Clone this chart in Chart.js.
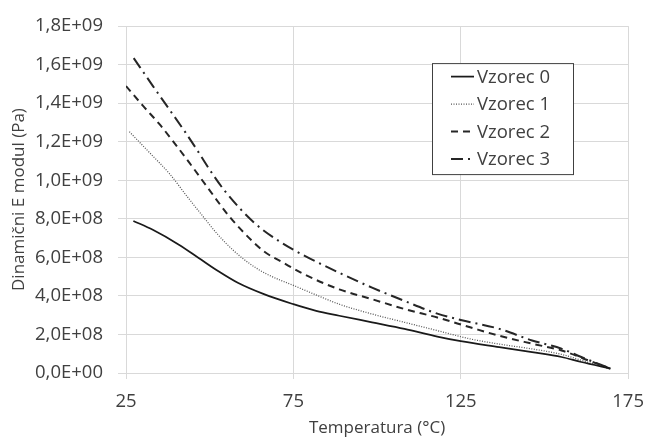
<!DOCTYPE html>
<html>
<head>
<meta charset="utf-8">
<script src="https://cdn.jsdelivr.net/npm/chart.js@4.4.1/dist/chart.umd.min.js"></script>
<style>
  html, body { margin: 0; padding: 0; background: #fff; }
  #wrap { width: 656px; height: 439px; }
</style>
</head>
<body>
<div id="wrap"><canvas id="modulChart" width="656" height="439"></canvas></div>
<script>
// Dynamic modulus vs temperature, four samples
const seriesNames = ["Vzorec 0", "Vzorec 1", "Vzorec 2", "Vzorec 3"];

const temp0 = [27.2, 33, 40.8, 46.7, 52.5, 58.4, 66.2, 75, 81.8, 88.7, 98.5, 108.2, 118, 125, 136.5, 146.3, 155.1, 161, 169.7];
const modul0 = [7.89e8, 7.43e8, 6.66e8, 5.97e8, 5.29e8, 4.68e8, 4.09e8, 3.57e8, 3.22e8, 2.97e8, 2.63e8, 2.29e8, 1.89e8, 1.65e8, 1.34e8, 1.08e8, 0.83e8, 0.57e8, 0.23e8];

const temp1 = [26, 33, 37.9, 43.75, 47.65, 52.5, 57.4, 62.3, 67.2, 75.5, 81.8, 88.7, 98.5, 108.2, 118, 127.8, 136.5, 146.3, 155, 161, 169.7];
const modul1 = [12.52e8, 11.26e8, 10.36e8, 9.05e8, 8.2e8, 7.17e8, 6.31e8, 5.63e8, 5.12e8, 4.51e8, 4.05e8, 3.57e8, 3.06e8, 2.63e8, 2.2e8, 1.77e8, 1.5e8, 1.25e8, 0.97e8, 0.66e8, 0.2e8];

const temp2 = [25, 30.1, 35, 38.9, 43.8, 49.6, 55.5, 60.4, 66.2, 72.1, 77.9, 88.7, 98.5, 108.2, 118, 127.8, 136.5, 146.3, 155.1, 163, 169.7];
const modul2 = [14.89e8, 13.86e8, 12.91e8, 12.06e8, 10.94e8, 9.57e8, 8.2e8, 7.25e8, 6.31e8, 5.71e8, 5.15e8, 4.34e8, 3.83e8, 3.32e8, 2.88e8, 2.37e8, 1.93e8, 1.52e8, 1.17e8, 0.66e8, 0.23e8];

const temp3 = [27.3, 33, 37.9, 42.8, 46.2, 49.6, 54.5, 63.3, 71.1, 78.4, 88.7, 98.5, 108.2, 118, 125, 136.5, 146.3, 155.1, 161, 169.7];
const modul3 = [16.34e8, 14.9e8, 13.69e8, 12.47e8, 11.58e8, 10.65e8, 9.45e8, 7.8e8, 6.8e8, 6.08e8, 5.2e8, 4.43e8, 3.74e8, 3.08e8, 2.75e8, 2.29e8, 1.69e8, 1.26e8, 0.83e8, 0.23e8];

const xTickValues = [25, 75, 125, 175];
const yTickValues = [0, 2e8, 4e8, 6e8, 8e8, 10e8, 12e8, 14e8, 16e8, 18e8];

const FONT = "'Open Sans', 'DejaVu Sans', sans-serif";
const TEXT = "#404040";
const GRID = "#d9d9d9";

function toPoints(xs, ys) {
    return xs.map((x, i) => ({ x: x, y: ys[i] }));
}

// "1,8E+09" style labels
function sciLabel(v) {
    if (v === 0) return "0,0E+00";
    const exp = Math.floor(Math.log10(v) + 1e-9);
    const mant = v / Math.pow(10, exp);
    return mant.toFixed(1).replace(".", ",") + "E+" + String(exp).padStart(2, "0");
}

// boxed legend inside the plot area
const boxLegend = {
    id: "boxLegend",
    afterDatasetsDraw(chart) {
        const ctx = chart.ctx;
        const area = chart.chartArea;
        const bx = area.left + 306;
        const by = area.top + 37;
        const bw = 141, bh = 111;
        ctx.save();
        ctx.fillStyle = "#fff";
        ctx.fillRect(bx, by, bw, bh);
        ctx.strokeStyle = "#404040";
        ctx.lineWidth = 1;
        ctx.strokeRect(bx + 0.5, by + 0.5, bw, bh);
        ctx.font = "18.5px " + FONT;
        ctx.textBaseline = "middle";
        chart.data.datasets.forEach((ds, i) => {
            const y = by + 13.5 + i * 27.5;
            ctx.beginPath();
            ctx.setLineDash(ds.borderDash || []);
            ctx.strokeStyle = ds.borderColor;
            ctx.lineWidth = ds.borderWidth;
            ctx.moveTo(bx + 19, y);
            ctx.lineTo(bx + 42, y);
            ctx.stroke();
            ctx.setLineDash([]);
            ctx.fillStyle = TEXT;
            ctx.fillText(ds.label, bx + 45, y + 1);
        });
        ctx.restore();
    }
};

const ctx = document.getElementById("modulChart").getContext("2d");
new Chart(ctx, {
    type: "line",
    data: {
        datasets: [
            { label: seriesNames[0], data: toPoints(temp0, modul0), borderColor: "#1a1a1a", borderWidth: 1.75, borderDash: [] },
            { label: seriesNames[1], data: toPoints(temp1, modul1), borderColor: "#555555", borderWidth: 1.25, borderDash: [1, 1.5] },
            { label: seriesNames[2], data: toPoints(temp2, modul2), borderColor: "#262626", borderWidth: 2, borderDash: [7, 5] },
            { label: seriesNames[3], data: toPoints(temp3, modul3), borderColor: "#262626", borderWidth: 2, borderDash: [12, 5, 2, 5] }
        ]
    },
    options: {
        responsive: false,
        animation: false,
        layout: { padding: { left: 0, right: 19, top: 23, bottom: 0 } },
        elements: {
            point: { radius: 0 },
            line: { cubicInterpolationMode: "monotone", fill: false }
        },
        plugins: {
            legend: { display: false },
            tooltip: { enabled: false }
        },
        scales: {
            x: {
                type: "linear",
                min: 25,
                max: 175,
                afterBuildTicks: (scale) => { scale.ticks = xTickValues.map(v => ({ value: v })); },
                afterFit: (scale) => { scale.height = 66; },
                grid: { color: GRID, lineWidth: 1, tickLength: 6, drawTicks: true },
                border: { color: GRID },
                ticks: { color: TEXT, font: { family: FONT, size: 18.5 }, padding: 12, maxRotation: 0 },
                title: { display: true, text: "Temperatura (°C)", color: TEXT, font: { family: FONT, size: 17 }, padding: { top: 1, bottom: 1 } }
            },
            y: {
                min: 0,
                max: 18e8,
                afterBuildTicks: (scale) => { scale.ticks = yTickValues.map(v => ({ value: v })); },
                afterFit: (scale) => { scale.width = 126; },
                grid: { color: GRID, lineWidth: 1, tickLength: 8 },
                border: { color: GRID },
                ticks: { color: TEXT, font: { family: FONT, size: 18.5 }, padding: 15, callback: sciLabel },
                title: { display: true, text: "Dinamični E modul (Pa)", color: TEXT, font: { family: FONT, size: 17 }, padding: { top: 9, bottom: 4 } }
            }
        }
    },
    plugins: [boxLegend]
});
</script>
</body>
</html>
